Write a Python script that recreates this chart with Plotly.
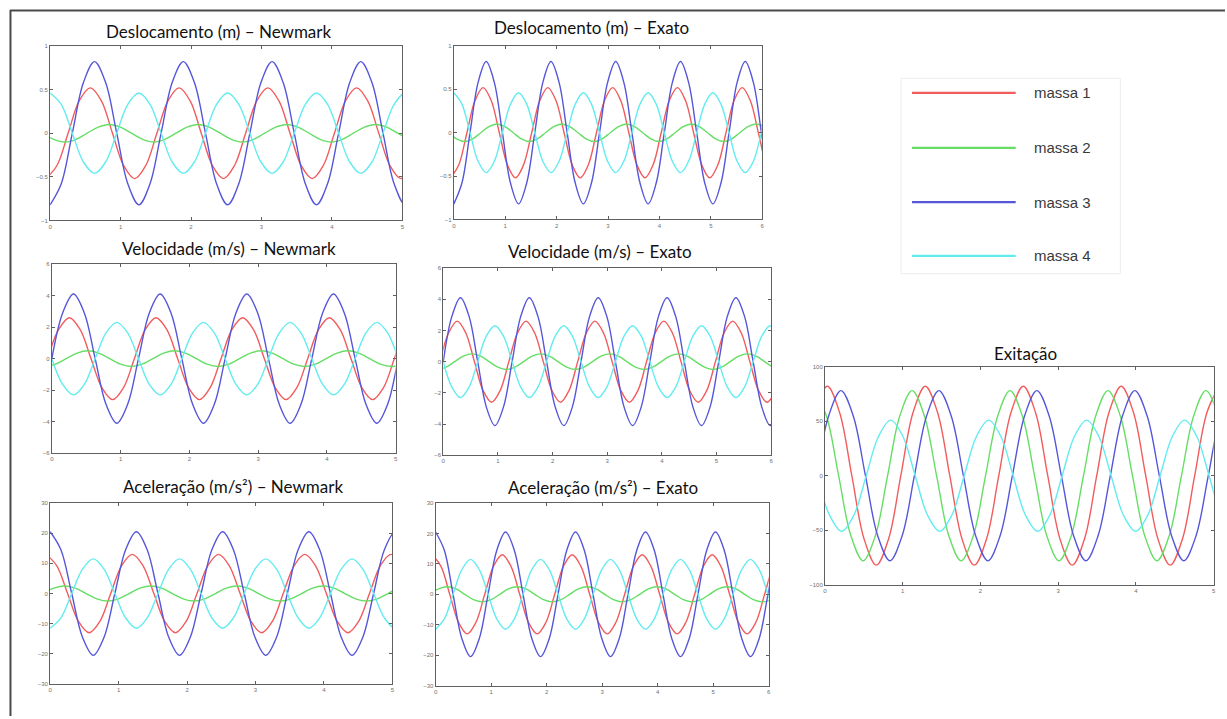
import plotly.graph_objects as go

W, H = 1227, 719

# ---- data: values at eighth-period key points (time in s) ----
t_m1 = [-0.06, 0.0975, 0.255, 0.4125, 0.57, 0.7275, 0.885, 1.0425,
        1.2, 1.3575, 1.515, 1.6725, 1.83, 1.9875, 2.145, 2.3025,
        2.46, 2.6175, 2.775, 2.9325, 3.09, 3.2475, 3.405, 3.5625,
        3.72, 3.8775, 4.035, 4.1925, 4.35, 4.5075, 4.665, 4.8225,
        4.98, 5.1375, 5.295, 5.4525, 5.61, 5.7675, 5.925, 6.0825, 6.24]
t_m2 = [-0.105, 0.0525, 0.21, 0.3675, 0.525, 0.6825, 0.84, 0.9975,
        1.155, 1.3125, 1.47, 1.6275, 1.785, 1.9425, 2.1, 2.2575,
        2.415, 2.5725, 2.73, 2.8875, 3.045, 3.2025, 3.36, 3.5175,
        3.675, 3.8325, 3.99, 4.1475, 4.305, 4.4625, 4.62, 4.7775,
        4.935, 5.0925, 5.25, 5.4075, 5.565, 5.7225, 5.88, 6.0375, 6.195]
t_m34 = [0, 0.1575, 0.315, 0.4725, 0.63, 0.7875, 0.945, 1.1025,
         1.26, 1.4175, 1.575, 1.7325, 1.89, 2.0475, 2.205, 2.3625,
         2.52, 2.6775, 2.835, 2.9925, 3.15, 3.3075, 3.465, 3.6225,
         3.78, 3.9375, 4.095, 4.2525, 4.41, 4.5675, 4.725, 4.8825,
         5.04, 5.1975, 5.355, 5.5125, 5.67, 5.8275, 5.985, 6.1425, 6.3]

# displacement (m)
desl_m1 = [-0.52, -0.37, 0, 0.37, 0.52, 0.37, 0, -0.37,
           -0.52, -0.37, 0, 0.37, 0.52, 0.37, 0, -0.37,
           -0.52, -0.37, 0, 0.37, 0.52, 0.37, 0, -0.37,
           -0.52, -0.37, 0, 0.37, 0.52, 0.37, 0, -0.37,
           -0.52, -0.37, 0, 0.37, 0.52, 0.37, 0, -0.37, -0.52]
desl_m2 = [0, -0.07, -0.1, -0.07, 0, 0.07, 0.1, 0.07,
           0, -0.07, -0.1, -0.07, 0, 0.07, 0.1, 0.07,
           0, -0.07, -0.1, -0.07, 0, 0.07, 0.1, 0.07,
           0, -0.07, -0.1, -0.07, 0, 0.07, 0.1, 0.07,
           0, -0.07, -0.1, -0.07, 0, 0.07, 0.1, 0.07, 0]
desl_m3 = [-0.82, -0.58, 0, 0.58, 0.82, 0.58, 0, -0.58,
           -0.82, -0.58, 0, 0.58, 0.82, 0.58, 0, -0.58,
           -0.82, -0.58, 0, 0.58, 0.82, 0.58, 0, -0.58,
           -0.82, -0.58, 0, 0.58, 0.82, 0.58, 0, -0.58,
           -0.82, -0.58, 0, 0.58, 0.82, 0.58, 0, -0.58, -0.82]
desl_m4 = [0.46, 0.33, 0, -0.33, -0.46, -0.33, 0, 0.33,
           0.46, 0.33, 0, -0.33, -0.46, -0.33, 0, 0.33,
           0.46, 0.33, 0, -0.33, -0.46, -0.33, 0, 0.33,
           0.46, 0.33, 0, -0.33, -0.46, -0.33, 0, 0.33,
           0.46, 0.33, 0, -0.33, -0.46, -0.33, 0, 0.33, 0.46]

# velocity (m/s)
vel_m1 = [0, 1.84, 2.6, 1.84, 0, -1.84, -2.6, -1.84,
          0, 1.84, 2.6, 1.84, 0, -1.84, -2.6, -1.84,
          0, 1.84, 2.6, 1.84, 0, -1.84, -2.6, -1.84,
          0, 1.84, 2.6, 1.84, 0, -1.84, -2.6, -1.84,
          0, 1.84, 2.6, 1.84, 0, -1.84, -2.6, -1.84, 0]
vel_m2 = [-0.5, -0.35, 0, 0.35, 0.5, 0.35, 0, -0.35,
          -0.5, -0.35, 0, 0.35, 0.5, 0.35, 0, -0.35,
          -0.5, -0.35, 0, 0.35, 0.5, 0.35, 0, -0.35,
          -0.5, -0.35, 0, 0.35, 0.5, 0.35, 0, -0.35,
          -0.5, -0.35, 0, 0.35, 0.5, 0.35, 0, -0.35, -0.5]
vel_m3 = [0, 2.9, 4.1, 2.9, 0, -2.9, -4.1, -2.9,
          0, 2.9, 4.1, 2.9, 0, -2.9, -4.1, -2.9,
          0, 2.9, 4.1, 2.9, 0, -2.9, -4.1, -2.9,
          0, 2.9, 4.1, 2.9, 0, -2.9, -4.1, -2.9,
          0, 2.9, 4.1, 2.9, 0, -2.9, -4.1, -2.9, 0]
vel_m4 = [0, -1.63, -2.3, -1.63, 0, 1.63, 2.3, 1.63,
          0, -1.63, -2.3, -1.63, 0, 1.63, 2.3, 1.63,
          0, -1.63, -2.3, -1.63, 0, 1.63, 2.3, 1.63,
          0, -1.63, -2.3, -1.63, 0, 1.63, 2.3, 1.63,
          0, -1.63, -2.3, -1.63, 0, 1.63, 2.3, 1.63, 0]

# acceleration (m/s²)
acel_m1 = [13, 9.2, 0, -9.2, -13, -9.2, 0, 9.2,
           13, 9.2, 0, -9.2, -13, -9.2, 0, 9.2,
           13, 9.2, 0, -9.2, -13, -9.2, 0, 9.2,
           13, 9.2, 0, -9.2, -13, -9.2, 0, 9.2,
           13, 9.2, 0, -9.2, -13, -9.2, 0, 9.2, 13]
acel_m2 = [0, 1.77, 2.5, 1.77, 0, -1.77, -2.5, -1.77,
           0, 1.77, 2.5, 1.77, 0, -1.77, -2.5, -1.77,
           0, 1.77, 2.5, 1.77, 0, -1.77, -2.5, -1.77,
           0, 1.77, 2.5, 1.77, 0, -1.77, -2.5, -1.77,
           0, 1.77, 2.5, 1.77, 0, -1.77, -2.5, -1.77, 0]
acel_m3 = [20.5, 14.5, 0, -14.5, -20.5, -14.5, 0, 14.5,
           20.5, 14.5, 0, -14.5, -20.5, -14.5, 0, 14.5,
           20.5, 14.5, 0, -14.5, -20.5, -14.5, 0, 14.5,
           20.5, 14.5, 0, -14.5, -20.5, -14.5, 0, 14.5,
           20.5, 14.5, 0, -14.5, -20.5, -14.5, 0, 14.5, 20.5]
acel_m4 = [-11.5, -8.1, 0, 8.1, 11.5, 8.1, 0, -8.1,
           -11.5, -8.1, 0, 8.1, 11.5, 8.1, 0, -8.1,
           -11.5, -8.1, 0, 8.1, 11.5, 8.1, 0, -8.1,
           -11.5, -8.1, 0, 8.1, 11.5, 8.1, 0, -8.1,
           -11.5, -8.1, 0, 8.1, 11.5, 8.1, 0, -8.1, -11.5]

# excitation
tex_m1 = [-0.285, -0.1275, 0.03, 0.1875, 0.345, 0.5025, 0.66, 0.8175,
          0.975, 1.1325, 1.29, 1.4475, 1.605, 1.7625, 1.92, 2.0775,
          2.235, 2.3925, 2.55, 2.7075, 2.865, 3.0225, 3.18, 3.3375,
          3.495, 3.6525, 3.81, 3.9675, 4.125, 4.2825, 4.44, 4.5975,
          4.755, 4.9125, 5.07]
exc_m1 = [0, 58, 82, 58, 0, -58, -82, -58,
          0, 58, 82, 58, 0, -58, -82, -58,
          0, 58, 82, 58, 0, -58, -82, -58,
          0, 58, 82, 58, 0, -58, -82, -58,
          0, 58, 82]
tex_m2 = [-0.14, 0.0175, 0.175, 0.3325, 0.49, 0.6475, 0.805, 0.9625,
          1.12, 1.2775, 1.435, 1.5925, 1.75, 1.9075, 2.065, 2.2225,
          2.38, 2.5375, 2.695, 2.8525, 3.01, 3.1675, 3.325, 3.4825,
          3.64, 3.7975, 3.955, 4.1125, 4.27, 4.4275, 4.585, 4.7425,
          4.9, 5.0575, 5.215]
exc_m2 = [78, 55, 0, -55, -78, -55, 0, 55,
          78, 55, 0, -55, -78, -55, 0, 55,
          78, 55, 0, -55, -78, -55, 0, 55,
          78, 55, 0, -55, -78, -55, 0, 55,
          78, 55, 0]
tex_m3 = [-0.11, 0.0475, 0.205, 0.3625, 0.52, 0.6775, 0.835, 0.9925,
          1.15, 1.3075, 1.465, 1.6225, 1.78, 1.9375, 2.095, 2.2525,
          2.41, 2.5675, 2.725, 2.8825, 3.04, 3.1975, 3.355, 3.5125,
          3.67, 3.8275, 3.985, 4.1425, 4.3, 4.4575, 4.615, 4.7725,
          4.93, 5.0875, 5.245]
exc_m3 = [0, 55, 78, 55, 0, -55, -78, -55,
          0, 55, 78, 55, 0, -55, -78, -55,
          0, 55, 78, 55, 0, -55, -78, -55,
          0, 55, 78, 55, 0, -55, -78, -55,
          0, 55, 78]
tex_m4 = [-0.1, 0.0575, 0.215, 0.3725, 0.53, 0.6875, 0.845, 1.0025,
          1.16, 1.3175, 1.475, 1.6325, 1.79, 1.9475, 2.105, 2.2625,
          2.42, 2.5775, 2.735, 2.8925, 3.05, 3.2075, 3.365, 3.5225,
          3.68, 3.8375, 3.995, 4.1525, 4.31, 4.4675, 4.625, 4.7825,
          4.94, 5.0975, 5.255]
exc_m4 = [0, -36, -51, -36, 0, 36, 51, 36,
          0, -36, -51, -36, 0, 36, 51, 36,
          0, -36, -51, -36, 0, 36, 51, 36,
          0, -36, -51, -36, 0, 36, 51, 36,
          0, -36, -51]

labels = ["massa 1", "massa 2", "massa 3", "massa 4"]
colors = ["#f25c5c", "#66de66", "#5656da", "#62ecf0"]

titles = ["Deslocamento (m) – Newmark", "Deslocamento (m) – Exato",
          "Velocidade (m/s) – Newmark", "Velocidade (m/s) – Exato",
          "Aceleração (m/s²) – Newmark", "Aceleração (m/s²) – Exato",
          "Exitação"]

resp_t = [t_m1, t_m2, t_m34, t_m34]
desl = [desl_m1, desl_m2, desl_m3, desl_m4]
vel = [vel_m1, vel_m2, vel_m3, vel_m4]
acel = [acel_m1, acel_m2, acel_m3, acel_m4]
exc_t = [tex_m1, tex_m2, tex_m3, tex_m4]
exc = [exc_m1, exc_m2, exc_m3, exc_m4]

# panel layout in pixels: (x0, x1, ytop, ybottom), title centre (x, y)
panels = [
    dict(box=(48.3, 401.7, 43.3, 219.3), tc=(218, 29), t=resp_t, y=desl, xr=5, yr=1, dt=0.5),
    dict(box=(453.3, 762.7, 43.3, 218.3), tc=(591, 25), t=resp_t, y=desl, xr=6, yr=1, dt=0.5),
    dict(box=(50, 395, 263.3, 454), tc=(228, 248), t=resp_t, y=vel, xr=5, yr=6, dt=2),
    dict(box=(442.7, 771.7, 267.3, 456), tc=(600, 251), t=resp_t, y=vel, xr=6, yr=6, dt=2),
    dict(box=(48.3, 391.7, 504.3, 686.7), tc=(232, 488), t=resp_t, y=acel, xr=5, yr=30, dt=10),
    dict(box=(435, 769.3, 504.3, 688.3), tc=(603, 489), t=resp_t, y=acel, xr=6, yr=30, dt=10),
    dict(box=(825.7, 1215.7, 366.7, 586.7), tc=(1027, 353), t=exc_t, y=exc, xr=5, yr=100, dt=50),
]

fig = go.Figure()
annotations = []
shapes = []
layout_axes = {}

for i, p in enumerate(panels):
    n = i + 1
    xs = "" if n == 1 else str(n)
    x0, x1, yt, yb = p["box"]
    for k in range(4):
        fig.add_trace(go.Scatter(
            x=p["t"][k], y=p["y"][k], mode="lines",
            line=dict(color=colors[k], width=1.4, shape="spline", smoothing=1.0),
            name=labels[k], showlegend=False,
            xaxis="x" + xs, yaxis="y" + xs, hoverinfo="skip"))
    common = dict(showline=True, linecolor="#606060", linewidth=1, mirror="ticks",
                  ticks="inside", ticklen=3, tickcolor="#606060", showgrid=False,
                  zeroline=False, tickfont=dict(family="Liberation Sans", size=6, color="#707070"))
    layout_axes["xaxis" + xs] = dict(domain=[x0 / W, x1 / W], range=[0, p["xr"]], dtick=1,
                                     anchor="y" + xs, **common)
    layout_axes["yaxis" + xs] = dict(domain=[(H - yb) / H, (H - yt) / H],
                                     range=[-p["yr"], p["yr"]], dtick=p["dt"],
                                     anchor="x" + xs, **common)
    annotations.append(dict(text=titles[i], x=p["tc"][0] / W, y=1 - p["tc"][1] / H,
                            xref="paper", yref="paper", xanchor="center", yanchor="middle",
                            showarrow=False, font=dict(family="Lato", size=17, color="#111111")))

# legend box (drawn)
lx0, lx1, ly0, ly1 = 902, 1122, 76, 273
shapes.append(dict(type="rect", xref="paper", yref="paper",
                   x0=lx0 / W, x1=lx1 / W, y0=1 - ly1 / H, y1=1 - ly0 / H,
                   line=dict(color="#ececec", width=1), fillcolor="rgba(0,0,0,0)"))
leg_y = [90.7, 146, 200.7, 255]
for k in range(4):
    shapes.append(dict(type="line", xref="paper", yref="paper",
                       x0=913 / W, x1=1017 / W, y0=1 - leg_y[k] / H, y1=1 - leg_y[k] / H,
                       line=dict(color=colors[k], width=2.2)))
    annotations.append(dict(text=labels[k], x=1033 / W, y=1 - leg_y[k] / H,
                            xref="paper", yref="paper", xanchor="left", yanchor="middle",
                            showarrow=False,
                            font=dict(family="Liberation Sans", size=15, color="#3a3a3a")))

# outer frame (top and left edges)
shapes.append(dict(type="line", xref="paper", yref="paper", x0=8 / W, x1=1, y0=1 - 7.5 / H, y1=1 - 7.5 / H,
                   line=dict(color="#4a4a4a", width=2)))
shapes.append(dict(type="line", xref="paper", yref="paper", x0=8.5 / W, x1=8.5 / W, y0=0, y1=1 - 7 / H,
                   line=dict(color="#4a4a4a", width=2)))

fig.update_layout(width=W, height=H, margin=dict(l=0, r=0, t=0, b=0),
                  paper_bgcolor="white", plot_bgcolor="white",
                  annotations=annotations, shapes=shapes, **layout_axes)

fig.write_html("out.html")
